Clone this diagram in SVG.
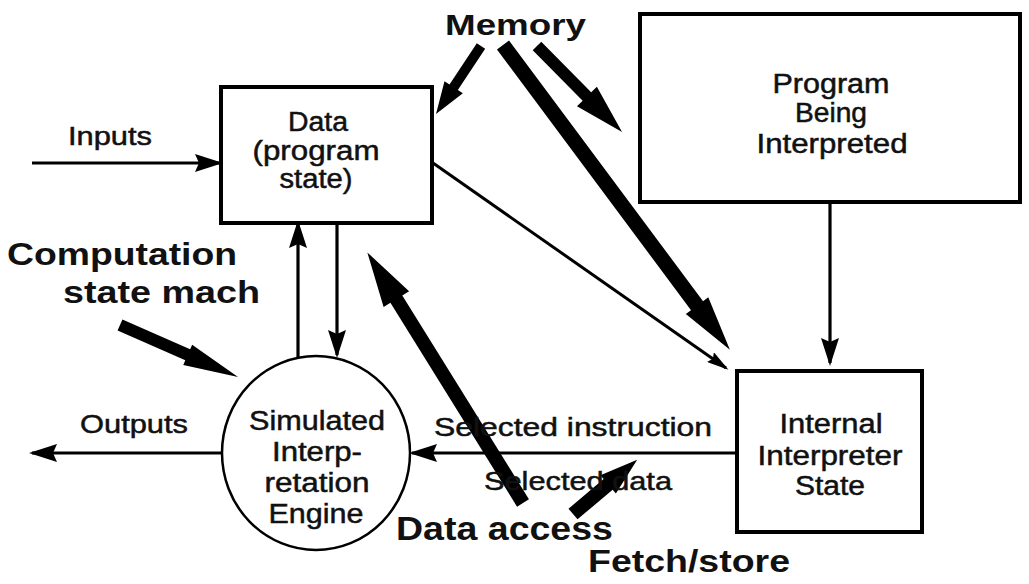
<svg xmlns="http://www.w3.org/2000/svg" width="1029" height="584" viewBox="0 0 1029 584">
<style>
.box{fill:#fff;stroke:#000;stroke-width:4}
.ell{fill:#fff;stroke:#000;stroke-width:2.5}
.t{font-family:"Liberation Sans",Arial,sans-serif;font-size:27px;fill:#111;stroke:#111;stroke-width:0.5;text-anchor:middle}
.lb{font-family:"Liberation Sans",Arial,sans-serif;font-size:26px;fill:#111;stroke:#111;stroke-width:0.5}
.bl{font-family:"Liberation Sans",Arial,sans-serif;font-weight:bold;fill:#111}
.ln{stroke:#000;stroke-width:3.2;fill:none;marker-end:url(#ah)}
.thin{stroke:#000;stroke-width:3;fill:none;marker-end:url(#as)}
.fat{fill:#000}
</style>
<defs>
<marker id="ah" markerUnits="userSpaceOnUse" viewBox="0 0 28 18" refX="25" refY="9" markerWidth="28" markerHeight="18" orient="auto"><path d="M0,0 L28,9 L0,18 L4,9 Z" fill="#000"/></marker>
<marker id="as" markerUnits="userSpaceOnUse" viewBox="0 0 22 12" refX="19" refY="6" markerWidth="22" markerHeight="12" orient="auto"><path d="M0,0 L22,6 L0,12 L3,6 Z" fill="#000"/></marker>
</defs>
<rect width="1029" height="584" fill="#fff"/>
<g id="connectors">
<line class="ln" x1="32" y1="163" x2="220" y2="163"/>
<line class="ln" x1="222" y1="453" x2="32" y2="453"/>
<line class="ln" x1="298" y1="358" x2="298" y2="223"/>
<line class="ln" x1="337" y1="223" x2="337" y2="355"/>
<line class="ln" x1="830" y1="202" x2="830" y2="363"/>
<line class="ln" x1="737" y1="453" x2="412" y2="453"/>
<line class="thin" x1="433" y1="163" x2="726" y2="368"/>
<path class="fat" transform="translate(481,46) rotate(123.5)" d="M0,-5 L49.5,-5 L49.5,-11 L81.5,0 L49.5,11 L49.5,5 L0,5 Z"/>
<path class="fat" transform="translate(503,45) rotate(53.34)" d="M0,-7.5 L325,-7.5 L325,-14 L380,0 L325,14 L325,7.5 L0,7.5 Z"/>
<path class="fat" transform="translate(537,46) rotate(45.33)" d="M0,-6 L71,-6 L71,-14 L121,0 L71,14 L71,6 L0,6 Z"/>
<path class="fat" transform="translate(120,325) rotate(23.78)" d="M0,-6 L74,-6 L74,-11 L129,0 L74,11 L74,6 L0,6 Z"/>
<path class="fat" transform="translate(523,503) rotate(-121.85)" d="M0,-7 L240,-7 L240,-15 L295,0 L240,15 L240,7 L0,7 Z"/>
<path class="fat" transform="translate(573,514) rotate(-40.16)" d="M0,-7 L46,-7 L46,-12 L84,0 L46,12 L46,7 L0,7 Z"/>
</g>
<g id="data">
<rect class="box" x="221" y="87" width="211" height="136"/>
<text class="t" x="318" y="131" textLength="60" lengthAdjust="spacingAndGlyphs">Data</text>
<text class="t" x="316" y="160" textLength="127" lengthAdjust="spacingAndGlyphs">(program</text>
<text class="t" x="316" y="188" textLength="73" lengthAdjust="spacingAndGlyphs">state)</text>
</g>
<g id="program">
<rect class="box" x="640" y="14" width="380" height="188"/>
<text class="t" x="831" y="93" textLength="117" lengthAdjust="spacingAndGlyphs">Program</text>
<text class="t" x="831" y="122" textLength="72" lengthAdjust="spacingAndGlyphs">Being</text>
<text class="t" x="832" y="153" textLength="151" lengthAdjust="spacingAndGlyphs">Interpreted</text>
</g>
<g id="internal">
<rect class="box" x="737" y="371" width="185" height="161"/>
<text class="t" x="831" y="433" textLength="103" lengthAdjust="spacingAndGlyphs">Internal</text>
<text class="t" x="830" y="465" textLength="145" lengthAdjust="spacingAndGlyphs">Interpreter</text>
<text class="t" x="830" y="495" textLength="70" lengthAdjust="spacingAndGlyphs">State</text>
</g>
<g id="engine">
<ellipse class="ell" cx="316" cy="453" rx="94" ry="97"/>
<text class="t" x="317" y="430" textLength="136" lengthAdjust="spacingAndGlyphs">Simulated</text>
<text class="t" x="317" y="461" textLength="90" lengthAdjust="spacingAndGlyphs">Interp-</text>
<text class="t" x="317" y="492" textLength="105" lengthAdjust="spacingAndGlyphs">retation</text>
<text class="t" x="316" y="523" textLength="95" lengthAdjust="spacingAndGlyphs">Engine</text>
</g>
<g id="labels">
<text class="lb" x="68" y="145" textLength="84" lengthAdjust="spacingAndGlyphs">Inputs</text>
<text class="lb" x="80" y="433" font-size="27" textLength="108" lengthAdjust="spacingAndGlyphs">Outputs</text>
<text class="lb" x="434" y="436" font-size="27" textLength="278" lengthAdjust="spacingAndGlyphs">Selected instruction</text>
<text class="lb" x="484" y="490" font-size="27" textLength="188" lengthAdjust="spacingAndGlyphs">Selected data</text>
<text class="bl" x="445" y="35" font-size="30" textLength="141" lengthAdjust="spacingAndGlyphs">Memory</text>
<text class="bl" x="7" y="265" font-size="32" textLength="230" lengthAdjust="spacingAndGlyphs">Computation</text>
<text class="bl" x="63" y="303" font-size="32" textLength="197" lengthAdjust="spacingAndGlyphs">state mach</text>
<text class="bl" x="396" y="540" font-size="33" textLength="217" lengthAdjust="spacingAndGlyphs">Data access</text>
<text class="bl" x="588" y="572" font-size="32" textLength="202" lengthAdjust="spacingAndGlyphs">Fetch/store</text>
</g>
</svg>
